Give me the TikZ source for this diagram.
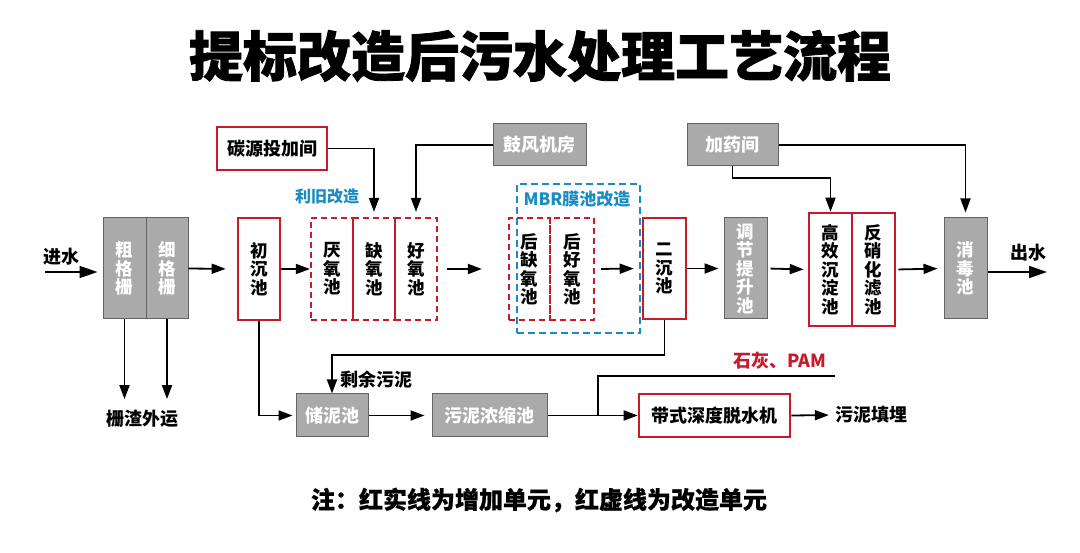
\documentclass[tikz,border=0pt]{standalone}
\usepackage{fontspec}
\setmainfont{Noto Sans CJK SC}
\usetikzlibrary{arrows.meta}
\definecolor{rd}{RGB}{200,25,45}
\definecolor{bl}{RGB}{25,140,195}
\definecolor{gfill}{RGB}{170,170,170}
\definecolor{gline}{RGB}{100,100,100}
\begin{document}
\begin{tikzpicture}[x=1pt,y=-1pt,
  vfont/.style={font=\bfseries\fontsize{17.5}{18.5}\selectfont},
  hfont/.style={font=\bfseries\fontsize{18}{20}\selectfont},
  vbox/.style={vfont,minimum width=42pt,minimum height=101pt,inner sep=0pt,align=center},
  hbox/.style={hfont,minimum height=43pt,inner sep=0pt},
  redbox/.style={draw=rd,line width=2.6pt,fill=white},
  graybox/.style={draw=gline,line width=1pt,fill=gfill,text=white},
  reddash/.style={draw=rd,line width=2.2pt,dash pattern=on 6pt off 4pt},
  bluedash/.style={draw=bl,line width=2pt,dash pattern=on 7pt off 4pt},
  conn/.style={line width=1.8pt,draw=black},
  arr/.style={conn,-{Triangle[length=14pt,width=10pt]}},
  bigarr/.style={conn,-{Triangle[length=18pt,width=12pt]}},
  lbl/.style={hfont,inner sep=0pt}
]
\useasboundingbox[fill=white] (0,0) rectangle (1080,553);

% title and note
\node[font=\bfseries\fontsize{54}{60}\selectfont\addfontfeatures{FakeBold=1.5}] (title) at (540,56) {提标改造后污水处理工艺流程};
\node[font=\bfseries\fontsize{24}{28}\selectfont\addfontfeatures{FakeBold=0.6}] (note) at (539,500) {注：红实线为增加单元，红虚线为改造单元};

% MBR blue frame
\node[bluedash,minimum width=123pt,minimum height=149pt] (mbr) at (578.5,258.5) {};
\node[lbl,text=bl,font=\bfseries\fontsize{17}{19}\selectfont] (mbrl) at (577,199) {MBR膜池改造};

% main line boxes
\node[vbox,graybox,minimum width=43pt] (cu) at (124.5,268.5) {粗\\格\\栅};
\node[vbox,graybox] (xi) at (167,268.5) {细\\格\\栅};
\node[vbox,redbox,minimum height=102pt] (cc) at (259,269) {初\\沉\\池};
\node[vbox,reddash,minimum height=102pt] (yy) at (332,269) {厌\\氧\\池};
\node[vbox,reddash,minimum height=102pt] (qy) at (374,269) {缺\\氧\\池};
\node[vbox,reddash,minimum height=102pt] (hy) at (416,269) {好\\氧\\池};
\node[vbox,reddash,minimum height=102pt,minimum width=41pt] (hq) at (529.5,269) {后\\缺\\氧\\池};
\node[vbox,reddash,minimum height=102pt,minimum width=44pt] (hh) at (572,269) {后\\好\\氧\\池};
\node[vbox,redbox,minimum width=43pt] (ec) at (664.5,268.5) {二\\沉\\池};
\node[vbox,graybox,minimum width=43pt] (tj) at (745.5,268.5) {调\\节\\提\\升\\池};
\node[vbox,redbox,minimum width=43pt,minimum height=113pt] (gx) at (830.5,269.5) {高\\效\\沉\\淀\\池};
\node[vbox,redbox,minimum width=43pt,minimum height=113pt] (fx) at (873.5,269.5) {反\\硝\\化\\滤\\池};
\node[vbox,graybox,minimum width=43pt] (xd) at (965.5,268.5) {消\\毒\\池};

% top boxes
\node[hbox,redbox,minimum width=110pt] (ty) at (272,148.5) {碳源投加间};
\node[hbox,graybox,minimum width=93pt,minimum height=42pt] (gf) at (539.5,145) {鼓风机房};
\node[hbox,graybox,minimum width=91pt,minimum height=42pt] (jy) at (732.5,145) {加药间};
\node[lbl,text=bl,font=\bfseries\fontsize{16}{18}\selectfont] (lj) at (327,196) {利旧改造};

% sludge line boxes
\node[hbox,graybox,minimum width=72pt] (cn) at (332,415.5) {储泥池};
\node[hbox,graybox,minimum width=115pt] (nz) at (489.5,415.5) {污泥浓缩池};
\node[hbox,redbox,minimum width=151pt] (ds) at (714.5,415.5) {带式深度脱水机};

% labels
\node[lbl] (jin) at (61,257) {进水};
\node[lbl] (chu) at (1028,253) {出水};
\node[lbl] (zw) at (142,419) {栅渣外运};
\node[lbl] (sy) at (376,380) {剩余污泥};
\node[lbl] (tm) at (871,415) {污泥填埋};
\node[lbl,text=rd] (pam) at (780,361) {石灰、PAM};

\coordinate (inw) at (45,272);
\coordinate (outw) at (1047,272);
\coordinate (br) at (598,415.5);
\coordinate (pe) at (835,376);

% main flow arrows
\draw[bigarr,shorten >=5pt] (inw) -- (cu.west |- inw);
\draw[arr,shorten >=11pt] (xi.east) -- (cc.west);
\draw[arr] (cc.east) -- (yy.west);
\draw[arr,shorten <=9pt,shorten >=26pt] (hy.east) -- (hq.west);
\draw[arr,shorten <=6pt,shorten >=8pt] (hh.east) -- (ec.west);
\draw[arr,shorten >=5pt] (ec.east) -- (tj.west);
\draw[arr,shorten <=3pt,shorten >=4pt] (tj.east) -- (gx.west);
\draw[arr,shorten <=2pt,shorten >=6pt] (fx.east) -- (xd.west);
\draw[bigarr] (xd.east |- outw) -- (outw);

% feeds from top
\draw[arr,shorten >=5pt] (ty.east) -| (qy.north);
\draw[arr,shorten >=5pt] (gf.west) -| (hy.north);
\draw[arr] (jy.south) -- (jy.south |- 0,178) -| (gx.north);
\draw[arr,shorten >=5pt] (jy.east) -| (xd.north);

% screenings
\draw[arr,shorten >=11pt] (cu.south) -- (cu.south |- zw.north);
\draw[arr,shorten >=11pt] (xi.south) -- (xi.south |- zw.north);

% sludge
\draw[arr,shorten >=3pt] (cc.south) |- (cn.west);
\draw[arr] (ec.south) -- (ec.south |- 0,355) -| (cn.north);
\draw[arr,shorten >=7pt] (cn.east) -- (nz.west);
\draw[arr] (nz.east) -- (ds.west);
\draw[conn] (br) |- (pe);
\draw[arr,shorten >=6pt] (ds.east) -- (tm.west);
\end{tikzpicture}
\end{document}
